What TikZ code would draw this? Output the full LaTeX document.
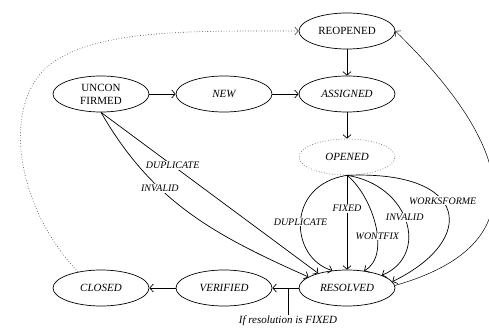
\documentclass[tikz,border=0pt]{standalone}
\usepackage{fontspec}
\setmainfont{Liberation Serif}
\usetikzlibrary{arrows.meta,shapes.geometric}

\begin{document}
\begin{tikzpicture}[x=1pt,y=-1pt]
	\tikzset{state/.style = {draw, ellipse, line width=0.7pt, minimum width=96pt, minimum height=36pt, inner sep=0pt, align=center, font=\fontsize{11}{13}\selectfont\itshape},
		upright/.style = {font=\fontsize{11}{13}\selectfont\upshape},
		trans/.style = {-{Straight Barb[length=3.5pt,width=8pt]}, line width=0.7pt},
		lbl/.style = {fill=white, inner sep=1pt, font=\fontsize{10}{12}\selectfont\itshape}}
	\useasboundingbox (0,0) rectangle (489,334);
	
	% Knoten
	\node[state, upright] (reopened) at (347,31) {REOPENED};
	\node[state, upright] (unconfirmed) at (101,94) {UNCON\\FIRMED};
	\node[state] (new) at (224,94) {NEW};
	\node[state] (assigned) at (347,94) {ASSIGNED};
	\node[state, dotted, draw=black!55] (opened) at (347,157) {OPENED};
	\node[state] (closed) at (101,288) {CLOSED};
	\node[state] (verified) at (224,288) {VERIFIED};
	\node[state] (resolved) at (347,288) {RESOLVED};
	\coordinate (fixedonly) at (288,315);
	\node[lbl, anchor=north, font=\fontsize{11}{13}\selectfont\itshape] (cond) at (fixedonly) {If resolution is FIXED};
	
	% Kanten
	\draw[trans] (reopened) -- (assigned);
	\draw[trans] (unconfirmed) -- (new);
	\draw[trans] (new) -- (assigned);
	\draw[trans] (assigned) -- (opened);
	\draw[trans] (resolved) -- (verified);
	\draw[trans] (verified) -- (closed);
	\draw[line width=0.7pt] (fixedonly) -- (fixedonly |- resolved);
	
	\draw[trans] (unconfirmed.south) -- (resolved.153) node[lbl, pos=0.33] {DUPLICATE};
	\draw[trans] (unconfirmed.south) to[out=-60, in=156] node[lbl, pos=0.35] {INVALID} (resolved.164);
	
	\draw[trans] (opened.south) .. controls (285,185) and (290,258) .. (resolved.130) node[lbl, pos=0.5] {DUPLICATE};
	\draw[trans] (opened.south) -- (resolved.north) node[lbl, pos=0.35] {FIXED};
	\draw[trans] (opened.south) .. controls (372,195) and (392,255) .. (resolved.45) node[lbl, pos=0.6] {WONTFIX};
	\draw[trans] (opened.south) .. controls (410,185) and (430,255) .. (resolved.20) node[lbl, pos=0.47] {INVALID};
	\draw[trans] (opened.south) .. controls (470,170) and (478,240) .. (resolved.8) node[lbl, pos=0.42] {WORKSFORME};
	
	\draw[trans, line width=0.5pt] (resolved.3) .. controls (590,230) and (445,80) .. (reopened.east);
	\draw[trans, dotted, line width=0.6pt, black!75] (closed.145) .. controls (10,200) and (0,90) .. (60,58) .. controls (110,29) and (200,31) .. (reopened.west);
\end{tikzpicture}
\end{document}
